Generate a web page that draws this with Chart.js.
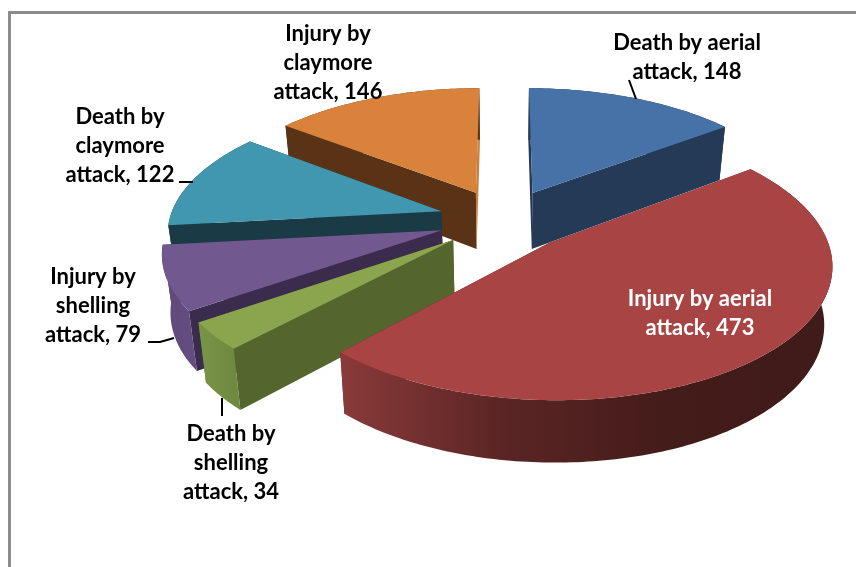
<!DOCTYPE html>
<html lang="en">
<head>
    <meta charset="UTF-8">
    <title>Casualties by attack type</title>
    <script src="https://cdn.jsdelivr.net/npm/chart.js"></script>
    <style>
        html, body { margin: 0; padding: 0; background: #fff; overflow: hidden; }
        #frame { position: absolute; left: 8px; top: 11px; right: 0; bottom: 0; border-left: 3px solid #8c8c8c; border-top: 3px solid #8c8c8c; }
        canvas { position: absolute; left: 0; top: 0; }
    </style>
</head>
<body>
    <div id="frame"></div>
    <canvas id="myChart" width="856" height="567"></canvas>
    <script>
        // Data
        const categories = ['Death by aerial attack', 'Injury by aerial attack', 'Death by shelling attack',
            'Injury by shelling attack', 'Death by claymore attack', 'Injury by claymore attack'];
        const values = [148, 473, 34, 79, 122, 146];

        // Where each label wraps
        const labelWraps = [
            ['Death by aerial', 'attack'],
            ['Injury by aerial', 'attack'],
            ['Death by', 'shelling', 'attack'],
            ['Injury by', 'shelling', 'attack'],
            ['Death by', 'claymore', 'attack'],
            ['Injury by', 'claymore', 'attack']
        ];

        // Colours per slice
        const faceColors = ['#4672a7', '#a84444', '#8aa54d', '#71588f', '#4197af', '#d9823b'];
        const edgeColors = ['#253a57', '#5c2525', '#55652e', '#3b2b4d', '#1a3a46', '#5a3317'];
        const closingEdgeColors = ['#253a57', '#5c2525', '#55652e', '#3b2b4d', '#1a3a46', '#c9803f'];
        const rimColors = [
            ['#253a57', '#253a57'],
            ['#8a3a3a', '#5a2524', '#441c1a', '#3f1b19'],
            ['#7a9547', '#6f8a40'],
            ['#5f4a7a', '#634d80'],
            ['#1a3a46', '#1a3a46'],
            ['#5a3317', '#5a3317']
        ];
        const labelColors = ['#000', '#fff', '#000', '#000', '#000', '#000'];

        // Label anchors (centre x, first baseline y) and leader lines
        const labelSpots = [[687, 50], [700, 306], [231, 441], [93, 284], [120, 124], [328, 41]];
        const leaders = [
            [[629, 80], [636, 99]],
            [],
            [[222, 398], [222, 416]],
            [[148, 342], [160, 342], [174, 338]],
            [[179, 182], [193, 182]],
            []
        ];
        const lineGap = 29;

        // Painter's order, far slices first
        const drawOrder = [5, 0, 4, 3, 2, 1];

        // Camera used to lay the flat pie down
        const camera = { cx: 504, cy: 219.5, A: 272, B: 127, p: 0.145, depth: 57, taper: 0.975 };

        function project(u, v) {
            const w = 1 + camera.p * v;
            return { x: camera.cx + camera.A * u / w, y: camera.cy - camera.B * v / w, v: v };
        }

        function drop(pt) {
            return {
                x: camera.cx + (pt.x - camera.cx) * camera.taper,
                y: pt.y + camera.depth * (1 - 0.08 * pt.v)
            };
        }

        function tracePoly(ctx, pts) {
            ctx.beginPath();
            pts.forEach((p, i) => (i ? ctx.lineTo(p.x, p.y) : ctx.moveTo(p.x, p.y)));
            ctx.closePath();
        }

        // Turns the arc element the pie controller laid out into 3D faces
        const pie3d = {
            id: 'pie3d',
            beforeDatasetsDraw(chart) {
                const ctx = chart.ctx;
                const arcs = chart.getDatasetMeta(0).data;

                drawOrder.forEach((i) => {
                    const arc = arcs[i];
                    const a0 = arc.startAngle + Math.PI / 2;
                    const a1 = arc.endAngle + Math.PI / 2;
                    const mid = (a0 + a1) / 2;
                    const e = arc.options.offset / arc.outerRadius;
                    const u0 = e * Math.sin(mid);
                    const v0 = e * Math.cos(mid);

                    const apex = project(u0, v0);
                    const rim = [];
                    const steps = Math.max(2, Math.ceil((a1 - a0) * 180 / Math.PI));
                    for (let s = 0; s <= steps; s++) {
                        const t = a0 + (a1 - a0) * s / steps;
                        rim.push(project(u0 + Math.sin(t), v0 + Math.cos(t)));
                    }
                    const first = rim[0];
                    const last = rim[rim.length - 1];

                    // radial walls
                    ctx.fillStyle = edgeColors[i];
                    tracePoly(ctx, [apex, first, drop(first), drop(apex)]);
                    ctx.fill();
                    ctx.fillStyle = closingEdgeColors[i];
                    tracePoly(ctx, [apex, last, drop(last), drop(apex)]);
                    ctx.fill();

                    // outer wall
                    const xs = rim.map((p) => p.x);
                    const grad = ctx.createLinearGradient(Math.min(...xs), 0, Math.max(...xs), 0);
                    rimColors[i].forEach((c, n) => grad.addColorStop(n / (rimColors[i].length - 1), c));
                    ctx.fillStyle = grad;
                    tracePoly(ctx, rim.concat(rim.map(drop).reverse()));
                    ctx.fill();

                    // top face
                    ctx.fillStyle = faceColors[i];
                    tracePoly(ctx, [apex].concat(rim));
                    ctx.fill();
                });
                // skip the flat arcs
                return false;
            },
            afterDraw(chart) {
                const ctx = chart.ctx;
                ctx.save();
                ctx.strokeStyle = '#000';
                ctx.lineWidth = 2;
                leaders.forEach((line) => {
                    if (!line.length) return;
                    ctx.beginPath();
                    line.forEach((p, n) => (n ? ctx.lineTo(p[0], p[1]) : ctx.moveTo(p[0], p[1])));
                    ctx.stroke();
                });

                ctx.font = '700 22px Lato';
                ctx.textAlign = 'center';
                ctx.textBaseline = 'alphabetic';
                chart.data.labels.forEach((name, i) => {
                    const lines = labelWraps[i].slice();
                    lines[lines.length - 1] += ', ' + values[i];
                    ctx.fillStyle = labelColors[i];
                    lines.forEach((text, n) => {
                        ctx.fillText(text, labelSpots[i][0], labelSpots[i][1] + n * lineGap);
                    });
                });
                ctx.restore();
            }
        };

        const chart = new Chart(document.getElementById('myChart').getContext('2d'), {
            type: 'pie',
            data: {
                labels: categories,
                datasets: [{
                    data: values,
                    backgroundColor: faceColors,
                    borderWidth: 0,
                    offset: 61
                }]
            },
            options: {
                responsive: false,
                animation: false,
                plugins: { legend: { display: false }, tooltip: { enabled: false } }
            },
            plugins: [pie3d]
        });
    </script>
</body>
</html>
